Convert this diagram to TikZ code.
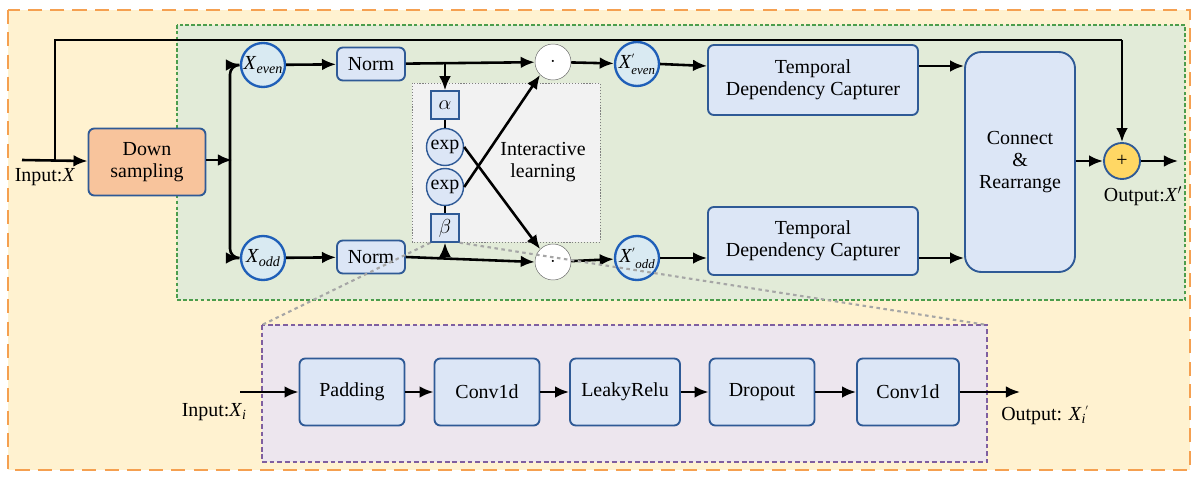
\documentclass[tikz,border=0pt]{standalone}
\usepackage{fontspec}
\setmainfont{Liberation Serif}
\newfontfamily\tnr{Liberation Serif}
\usetikzlibrary{arrows.meta}
\definecolor{bord}{HTML}{2F5A96}
\definecolor{cblue}{HTML}{1F5FB8}
\definecolor{boxf}{HTML}{DCE6F6}
\definecolor{circf}{HTML}{D9EAF2}
\newcommand{\iv}[1]{\textit{#1}}
\begin{document}
\begin{tikzpicture}[x=0.03cm,y=-0.03cm,
  every node/.style={font=\tnr\fontsize{17}{19}\selectfont},
  box/.style={draw=bord,line width=1.6pt,fill=boxf,rounded corners=5pt,inner sep=0pt},
  xc/.style={circle,draw=cblue,line width=2pt,fill=circf,minimum size=44*0.03cm,inner sep=0pt},
  dotc/.style={circle,draw=black!60,fill=white,minimum size=36*0.03cm,inner sep=0pt},
  arr/.style={-{Latex[length=12pt,width=10pt]},line width=2.2pt},
  ln/.style={line width=2.2pt}]
\useasboundingbox (0,0) rectangle (1200,479);
\draw[dash pattern=on 12pt off 7pt,draw={rgb,255:red,245;green,160;blue,80},line width=2pt,fill={rgb,255:red,255;green,242;blue,208}] (8,10) rectangle (1190,470);
\draw[dash pattern=on 3pt off 2pt,draw=green!45!black!70,line width=1.5pt,fill={rgb,255:red,226;green,235;blue,216}] (177,25) rectangle (1185,300);
\draw[dash pattern=on 1pt off 1.5pt,draw=gray,fill={rgb,255:red,242;green,242;blue,242}] (412,83) rectangle (600,242);
\draw[dash pattern=on 4pt off 2.5pt,draw={rgb,255:red,127;green,95;blue,160},line width=1.5pt,fill={rgb,255:red,237;green,230;blue,238}] (262,325) rectangle (987,462);
% nodes
\node[box,fill={rgb,255:red,248;green,196;blue,156},minimum width=117*0.03cm,minimum height=67*0.03cm,align=center] (down) at (147,162) {Down\\sampling};
\coordinate (in) at (22,160);
\node at (45,177) {Input:\iv{X}};
\node[xc] (xe) at (263,65) {\iv{X}\raisebox{-4pt}{\fontsize{12}{12}\selectfont\iv{even}}};
\node[xc] (xo) at (263,258) {\iv{X}\raisebox{-4pt}{\fontsize{12}{12}\selectfont\iv{odd}}};
\node[box,minimum width=68*0.03cm,minimum height=33*0.03cm] (n1) at (371,64) {Norm};
\node[box,minimum width=68*0.03cm,minimum height=33*0.03cm] (n2) at (371,257) {Norm};
\node[draw=bord,fill=boxf,line width=1.2pt,minimum size=28*0.03cm,inner sep=0pt] (al) at (445,105) {$\alpha$};
\node[draw=bord,fill=boxf,line width=1.2pt,minimum size=28*0.03cm,inner sep=0pt] (be) at (445,228) {$\beta$};
\node[circle,draw=bord,fill=boxf,line width=1.2pt,minimum size=37*0.03cm,inner sep=0pt] (e1) at (445,147) {exp};
\node[circle,draw=bord,fill=boxf,line width=1.2pt,minimum size=37*0.03cm,inner sep=0pt] (e2) at (445,187) {exp};
\node[align=center] (il) at (543,162) {Interactive\\learning};
\node[dotc] (d1) at (553,62) {\textbf{$\cdot$}};
\node[dotc] (d2) at (553,262) {\textbf{$\cdot$}};
\node[xc] (xe2) at (637,64) {\iv{X}\raisebox{5pt}{\fontsize{10}{10}\selectfont$'$}\hspace{-3pt}\raisebox{-5pt}{\fontsize{11}{11}\selectfont\iv{even}}};
\node[xc] (xo2) at (637,258) {\iv{X}\raisebox{5pt}{\fontsize{10}{10}\selectfont$'$}\raisebox{-5pt}{\fontsize{11}{11}\selectfont\iv{odd}}};
\node[box,minimum width=210*0.03cm,minimum height=70*0.03cm,align=center] (t1) at (813,80) {Temporal\\Dependency Capturer};
\node[box,minimum width=210*0.03cm,minimum height=68*0.03cm,align=center] (t2) at (813,241) {Temporal\\Dependency Capturer};
\node[box,rounded corners=14pt,minimum width=110*0.03cm,minimum height=220*0.03cm,align=center] (cr) at (1020,162) {Connect\\\&\\Rearrange};
\node[circle,draw=bord,fill={rgb,255:red,255;green,215;blue,100},line width=1.6pt,minimum size=36*0.03cm,inner sep=0pt] (pl) at (1122,161) {+};
\coordinate (out) at (1178,161);
\node at (1143,196) {Output:\iv{X}$'$};
% connectors
\draw[arr] (in) -- (down);
\draw[ln] (55,160) -- (55,40) -- (1122,40);
\draw[arr] (1122,40) -- (pl);
\draw[arr] (down.east|-0,160) -- (232,160);
\draw[arr,rounded corners=8pt] (230,160) -- (230,65) -- (xe);
\draw[arr,rounded corners=8pt] (230,160) -- (230,258) -- (xo);
\draw[arr] (xe) -- (n1);
\draw[arr] (xo) -- (n2);
\draw[arr] (n1) -- (d1);
\draw[arr] (n2.east) -- (d2.west);
\draw[arr] (445,64) -- (al);
\draw[arr] (445,257) -- (be);
\draw[ln] (al) -- (e1); \draw[ln] (e2) -- (be);
\draw[arr] (e1.east) -- (d2.north west);
\draw[arr] (e2.east) -- (d1.south west);
\draw[arr] (d1) -- (xe2);
\draw[arr] (d2) -- (xo2);
\draw[arr] (xe2.east) -- (t1.west|-0,66);
\draw[arr] (xo2.east) -- (t2.west|-0,258);
\draw[arr] (t1.east|-0,66) -- (cr.west|-0,66);
\draw[arr] (t2.east|-0,258) -- (cr.west|-0,258);
\draw[arr] (cr.east|-0,161) -- (pl);
\draw[arr] (pl) -- (out);
% zoom lines
\draw[dashed,gray!70,line width=1.8pt] (be.south west) -- (262,325);
\draw[dashed,gray!70,line width=1.8pt] (be.south east) -- (987,325);
% lower chain
\node[box,minimum width=105*0.03cm,minimum height=67*0.03cm] (p1) at (352,392) {Padding};
\node[box,minimum width=105*0.03cm,minimum height=67*0.03cm] (p2) at (487,392) {Conv1d};
\node[box,minimum width=110*0.03cm,minimum height=67*0.03cm] (p3) at (625,392) {LeakyRelu};
\node[box,minimum width=105*0.03cm,minimum height=67*0.03cm] (p4) at (762,392) {Dropout};
\node[box,minimum width=102*0.03cm,minimum height=67*0.03cm] (p5) at (908,392) {Conv1d};
\coordinate (li) at (240,392);
\coordinate (lo) at (1020,392);
\node at (214,412) {Input:\iv{X}\raisebox{-3pt}{\fontsize{12}{12}\selectfont\iv{i}}};
\node at (1045,415) {Output: \iv{X}\raisebox{-3pt}{\fontsize{12}{12}\selectfont\iv{i}}\raisebox{5pt}{\fontsize{10}{10}\selectfont$'$}};
\draw[arr] (li) -- (p1);
\draw[arr] (p1) -- (p2);
\draw[arr] (p2) -- (p3);
\draw[arr] (p3) -- (p4);
\draw[arr] (p4) -- (p5);
\draw[arr] (p5) -- (lo);
\end{tikzpicture}
\end{document}
